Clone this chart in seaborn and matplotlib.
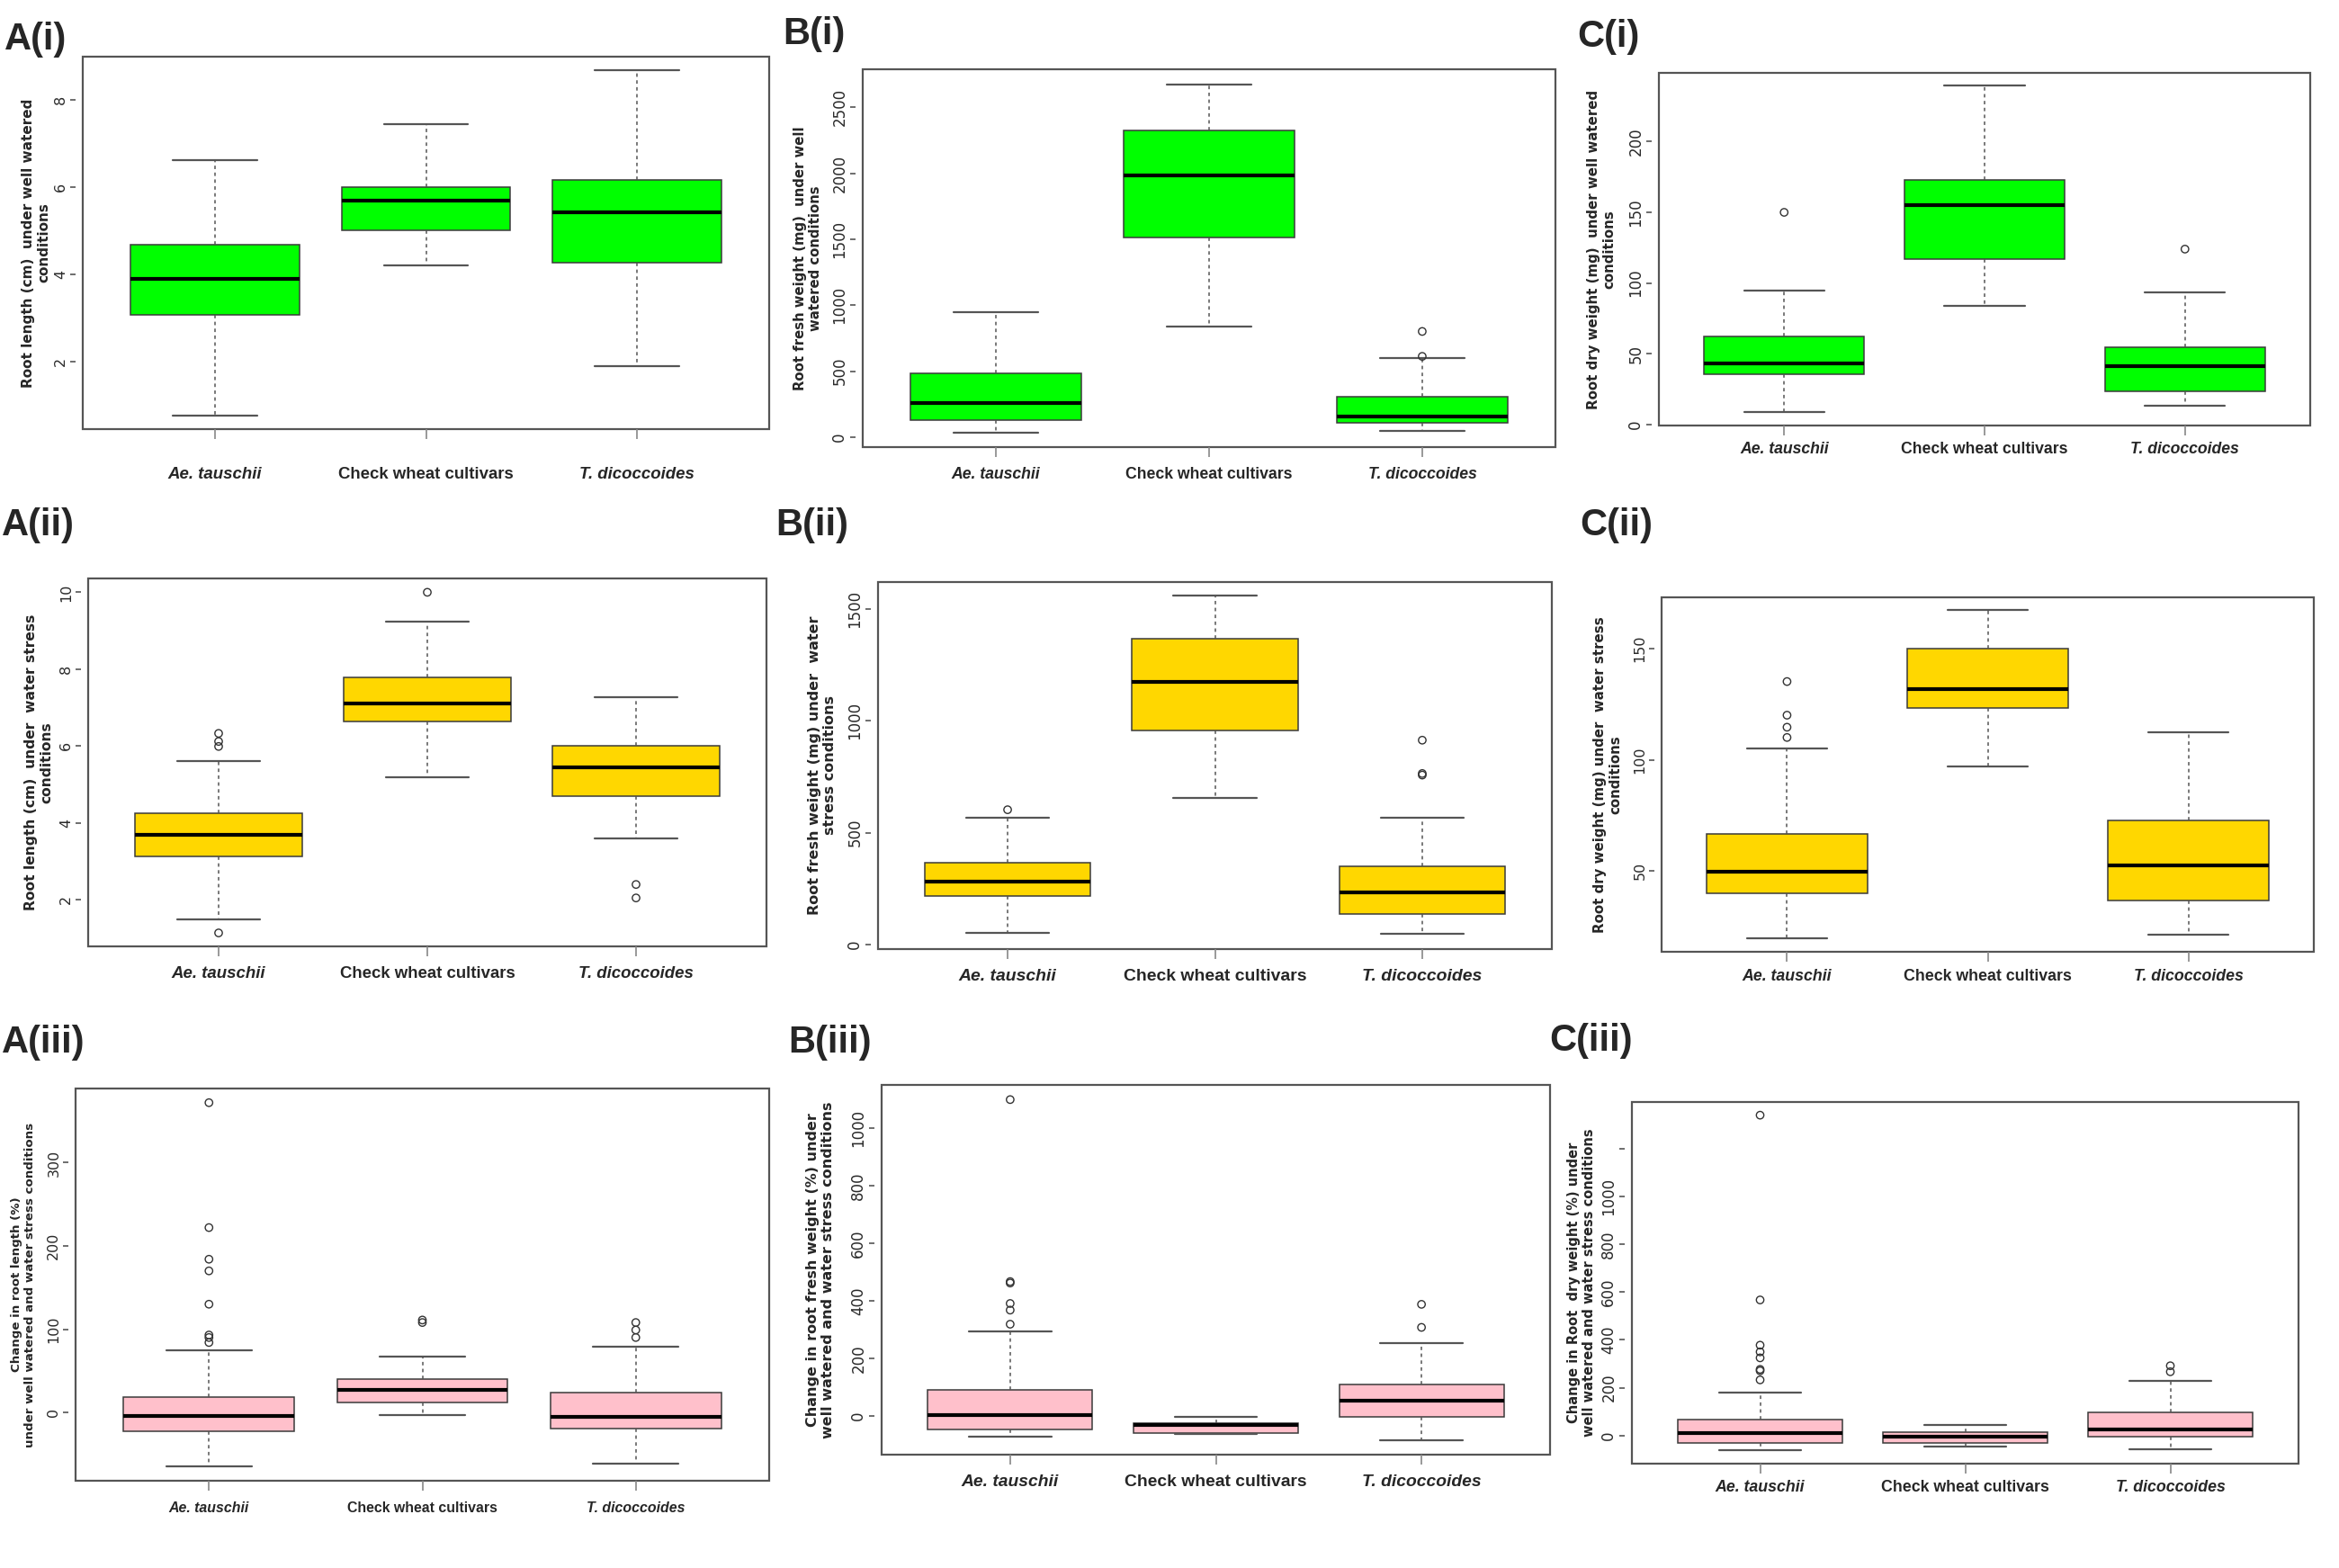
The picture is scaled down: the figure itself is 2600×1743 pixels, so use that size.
import numpy as np
import pandas as pd
import matplotlib
matplotlib.use("Agg")
import matplotlib.pyplot as plt
from matplotlib import font_manager
import seaborn as sns

# ---- data: [lower whisker, Q1, median, Q3, upper whisker] ----
groups = ["Ae. tauschii", "Check wheat cultivars", "T. dicoccoides"]

root_len_ww = [[0.75, 3.06, 3.89, 4.68, 6.63], [4.21, 5.00, 5.69, 6.00, 7.44], [1.88, 4.26, 5.42, 6.17, 8.69]]
root_len_ww_out = [[], [], []]

root_fw_ww = [[34, 132, 255, 482, 948], [835, 1516, 1986, 2324, 2676], [49, 105, 159, 304, 602]]
root_fw_ww_out = [[], [], [612, 801]]

root_dw_ww = [[8.7, 35.8, 42.9, 62.3, 94.6], [83.7, 117, 155, 173, 239.7], [13.5, 23.7, 41, 54.7, 93.7]]
root_dw_ww_out = [[150], [], [124]]

root_len_ws = [[1.50, 3.12, 3.68, 4.25, 5.61], [5.18, 6.64, 7.10, 7.78, 9.24], [3.60, 4.69, 5.44, 6.00, 7.27]]
root_len_ws_out = [[1.14, 5.99, 6.12, 6.33], [10.0], [2.05, 2.40]]

root_fw_ws = [[51, 216, 281, 367, 567], [657, 957, 1173, 1368, 1559], [48, 137, 233, 350, 567]]
root_fw_ws_out = [[603], [], [758, 765, 914]]

root_dw_ws = [[20.0, 39.9, 49.9, 66.8, 105.1], [97.1, 123.3, 131.9, 150.0, 167.1], [21.4, 37.0, 52.6, 72.9, 112.3]]
root_dw_ws_out = [[110, 114.6, 120, 135.1], [], []]

chg_len = [[-64.9, -22.9, -4.2, 18.7, 75], [-3.4, 11.5, 26.7, 40.3, 67.5], [-61.5, -19.1, -5.5, 24.2, 79]]
chg_len_out = [[84, 90, 93, 130, 170, 184, 222, 372], [108, 111], [90, 99, 108]]

chg_fw = [[-71, -46, 3, 92, 295], [-63, -58, -32, -26, -2], [-85, -3, 53, 111, 252]]
chg_fw_out = [[319, 368, 391, 462, 467, 1099], [], [308, 388]]

chg_dw = [[-60, -29, 10, 67, 180], [-47, -30, -4, 15, 44], [-56, -4, 25, 96, 230]]
chg_dw_out = [[233, 271, 277, 325, 350, 378, 567, 1339], [], [267, 292]]

panels = [
    dict(tag="A(i)", stats=root_len_ww, out=root_len_ww_out, fill="#00FF00",
         ylabel="Root length (cm)  under well watered\nconditions",
         yticks=[2, 4, 6, 8], ylim=(0.44, 9.0)),
    dict(tag="B(i)", stats=root_fw_ww, out=root_fw_ww_out, fill="#00FF00",
         ylabel="Root fresh weight (mg)  under well\nwatered conditions",
         yticks=[0, 500, 1000, 1500, 2000, 2500], ylim=(-76, 2789)),
    dict(tag="C(i)", stats=root_dw_ww, out=root_dw_ww_out, fill="#00FF00",
         ylabel="Root dry weight (mg)  under well watered\nconditions",
         yticks=[0, 50, 100, 150, 200], ylim=(-0.7, 248.6)),
    dict(tag="A(ii)", stats=root_len_ws, out=root_len_ws_out, fill="#FFD700",
         ylabel="Root length (cm)  under  water stress\nconditions",
         yticks=[2, 4, 6, 8, 10], ylim=(0.79, 10.36)),
    dict(tag="B(ii)", stats=root_fw_ws, out=root_fw_ws_out, fill="#FFD700",
         ylabel="Root fresh weight (mg) under  water\nstress conditions",
         yticks=[0, 500, 1000, 1500], ylim=(-20, 1621)),
    dict(tag="C(ii)", stats=root_dw_ws, out=root_dw_ws_out, fill="#FFD700",
         ylabel="Root dry weight (mg) under  water stress\nconditions",
         yticks=[50, 100, 150], ylim=(13.8, 172.9)),
    dict(tag="A(iii)", stats=chg_len, out=chg_len_out, fill="#FFC0CB",
         ylabel="Change in root length (%)\nunder well watered and water stress conditions",
         yticks=[0, 100, 200, 300], ylim=(-82, 389)),
    dict(tag="B(iii)", stats=chg_fw, out=chg_fw_out, fill="#FFC0CB",
         ylabel="Change in root fresh weight (%) under\nwell watered and water stress conditions",
         yticks=[0, 200, 400, 600, 800, 1000], ylim=(-134, 1150)),
    dict(tag="C(iii)", stats=chg_dw, out=chg_dw_out, fill="#FFC0CB",
         ylabel="Change in Root  dry weight (%) under\nwell watered and water stress conditions",
         yticks=[0, 200, 400, 600, 800, 1000, 1200], ylim=(-117, 1394)),
]

# ---- layout in output pixels: plot box (left, right, top, bottom), tag corner,
#      y-label right edge, font sizes ----
layout = [
    dict(box=(92, 855, 63, 477), tagxy=(5, 24), ylab_x=56, ylab_fs=11.0, xfs=16.4, xpad=22.5, yfs=11.5),
    dict(box=(959, 1729, 77, 497), tagxy=(870, 18), ylab_x=914, ylab_fs=10.7, xfs=15.5, xpad=7.5, yfs=12),
    dict(box=(1844, 2568, 81, 473), tagxy=(1753, 21), ylab_x=1796, ylab_fs=10.8, xfs=15.5, xpad=5, yfs=12),
    dict(box=(98, 852, 643, 1052), tagxy=(2, 564), ylab_x=59, ylab_fs=11.2, xfs=16.4, xpad=8, yfs=11.5),
    dict(box=(976, 1725, 647, 1055), tagxy=(862, 564), ylab_x=930, ylab_fs=11.5, xfs=17.0, xpad=8, yfs=12),
    dict(box=(1847, 2572, 664, 1058), tagxy=(1756, 564), ylab_x=1803, ylab_fs=10.8, xfs=15.6, xpad=5.5, yfs=11.5),
    dict(box=(84, 855, 1210, 1646), tagxy=(2, 1139), ylab_x=40, ylab_fs=9.6, xfs=14.0, xpad=8.5, yfs=11.5),
    dict(box=(980, 1723, 1206, 1617), tagxy=(876, 1139), ylab_x=928, ylab_fs=11.5, xfs=16.9, xpad=7.5, yfs=12),
    dict(box=(1814, 2555, 1225, 1627), tagxy=(1722, 1137), ylab_x=1774, ylab_fs=10.5, xfs=15.6, xpad=5, yfs=12),
]

W, H = 2600, 1743

sns.set_style("white")
plt.rcParams["font.family"] = ["DejaVu Sans"]

# condensed bold font for the group names, if installed
names = {f.name for f in font_manager.fontManager.ttflist}
if "Liberation Sans Narrow" in names:
    xfont, xscale = "Liberation Sans Narrow", 1.0
else:
    xfont, xscale = "Liberation Sans", 0.82

fig = plt.figure(figsize=(W / 100, H / 100), dpi=100)

for spec, lay in zip(panels, layout):
    l, r, t, b = lay["box"]
    ax = fig.add_axes([l / W, 1 - b / H, (r - l) / W, (b - t) / H])

    box_df = pd.DataFrame({"group": np.repeat(groups, 5),
                           "value": np.concatenate(spec["stats"])})
    sns.boxplot(data=box_df, x="group", y="value", order=groups, whis=(0, 100),
                width=0.8, color=spec["fill"], saturation=1, linecolor="#3a3a3a",
                linewidth=1.1, showfliers=False,
                medianprops={"color": "black", "linewidth": 3.0},
                whiskerprops={"color": "#555555", "linestyle": (0, (2.5, 2.5))},
                capprops={"color": "#555555", "linewidth": 1.6},
                ax=ax)

    out_g = [g for g, vals in zip(groups, spec["out"]) for _ in vals]
    out_v = [v for vals in spec["out"] for v in vals]
    if out_v:
        out_df = pd.DataFrame({"group": out_g, "value": out_v})
        sns.stripplot(data=out_df, x="group", y="value", order=groups, jitter=False,
                      size=6, marker="o", facecolors="none", edgecolor="#333333",
                      linewidth=1.0, ax=ax)

    ax.set_xlim(-0.625, 2.625)
    ax.set_ylim(*spec["ylim"])
    ax.set_xlabel("")

    # frame drawn by the axes patch; left ticks set off from it (R style)
    # (moving the spine resets the ticks, so do it before styling them)
    ax.spines["left"].set_position(("outward", 6))
    for sp in ax.spines.values():
        sp.set_visible(False)
    ax.patch.set_edgecolor("#555555")
    ax.patch.set_linewidth(1.6)

    ylabs = [str(v) for v in spec["yticks"]]
    if spec["tag"] == "C(iii)":
        ylabs[-1] = ""
    ax.set_yticks(spec["yticks"])
    ax.set_yticklabels(ylabs)
    ax.tick_params(axis="y", left=True, direction="out", length=4, width=1.2,
                   color="#555555", pad=2, labelsize=lay["yfs"], labelcolor="#2a2a2a",
                   labelrotation=90)
    for lab in ax.get_yticklabels():
        lab.set_va("center")

    ax.set_xticks(range(len(groups)))
    ax.set_xticklabels(groups)
    ax.tick_params(axis="x", bottom=True, direction="out", length=8, width=1.2,
                   color="#888888", pad=lay["xpad"])
    for i, lab in enumerate(ax.get_xticklabels()):
        lab.set_fontfamily(xfont)
        lab.set_fontweight("bold")
        lab.set_fontsize(lay["xfs"] * xscale)
        if i != 1:
            lab.set_fontstyle("italic")

    ax.set_ylabel(spec["ylabel"], fontsize=lay["ylab_fs"], fontweight="bold")
    ax.yaxis.set_label_coords((lay["ylab_x"] - l) / (r - l), 0.5)

    tx, ty = lay["tagxy"]
    fig.text(tx / W, 1 - ty / H, spec["tag"], fontsize=30, fontweight="bold",
             family="Liberation Sans", ha="left", va="top")

fig.savefig("out.png", dpi=100, facecolor="white")
